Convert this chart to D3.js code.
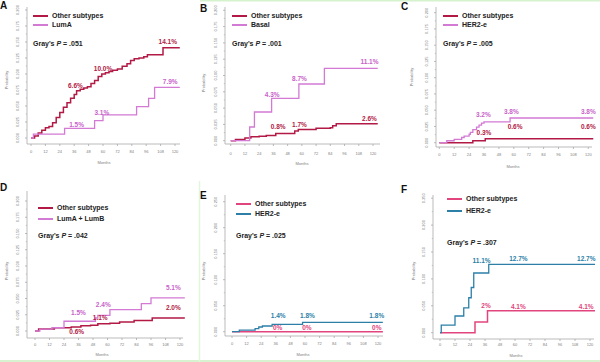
<!DOCTYPE html>
<html><head><meta charset="utf-8">
<script src="https://cdn.jsdelivr.net/npm/d3@7"></script>
<style>body{margin:0;background:#fff}svg{display:block}</style>
</head><body>
<svg id="c" width="600" height="362"></svg>
<script>
// ---------------- DATA ----------------
const monthTicks = [0,12,24,36,48,60,72,84,96,108,120];
const yTicks20 = [0,0.025,0.05,0.075,0.1,0.125,0.15,0.175,0.2];
const yTicks25 = [0,0.05,0.1,0.15,0.2,0.25];
const panelLetters = ["A","B","C","D","E","F"];
const legendNames = [
  ["Other subtypes","LumA"],
  ["Other subtypes","Basal"],
  ["Other subtypes","HER2-e"],
  ["Other subtypes","LumA + LumB"],
  ["Other subtypes","HER2-e"],
  ["Other subtypes","HER2-e"]
];
const pValues = [".051",".001",".005",".042",".025",".307"];

// cumulative incidence [month, probability]
const otherA = [[0,0],[3,0.003],[6,0.008],[9,0.012],[12,0.016],[15,0.018],[18,0.024],[21,0.032],[24,0.040],[27,0.048],[30,0.055],[33,0.062],[36,0.068],[38,0.074],[41,0.076],[44,0.078],[47,0.080],[50,0.085],[53,0.090],[56,0.096],[59,0.100],[62,0.102],[65,0.104],[68,0.106],[72,0.108],[76,0.112],[80,0.116],[83,0.121],[86,0.124],[90,0.125],[94,0.127],[97,0.130],[110,0.141]];
const lumA = [[0,0],[2,0.006],[28,0.015],[53,0.027],[60,0.036],[88,0.049],[98,0.062],[103,0.079]];
const otherB = [[0,0],[4,0.002],[12,0.004],[17,0.006],[24,0.007],[30,0.008],[38,0.011],[42,0.011],[54,0.015],[57,0.017],[66,0.017],[72,0.019],[84,0.020],[86,0.023],[89,0.026]];
const basalB = [[0,0],[16,0.021],[20,0.044],[34.5,0.065],[57.5,0.087],[79,0.111]];
const otherC = [[0,0],[27,0.003],[37,0.006]];
const her2C = [[0,0],[6,0.003],[12,0.005],[18,0.008],[20,0.010],[24,0.013],[25,0.016],[27,0.020],[30,0.024],[32,0.027],[34,0.030],[36,0.032],[57,0.038]];
const otherD = [[0,0],[3,0.003],[16,0.005],[30,0.006],[38,0.008],[46,0.009],[52,0.011],[62,0.012],[70,0.014],[82,0.016],[97,0.020]];
const lumABD = [[0,0],[4,0.003],[14,0.005],[24,0.015],[50,0.020],[52,0.024],[62,0.033],[88,0.042],[96,0.051]];
const otherE = [[0,0]];
const her2E = [[0,0],[6,0.003],[19,0.006],[22,0.009],[25,0.011],[33,0.014],[58,0.018]];
const otherF = [[0,0],[28,0.020],[38,0.041]];
const her2F = [[0,0],[1,0.014],[12,0.031],[19,0.046],[23,0.065],[25,0.084],[27,0.111],[39,0.127]];

// annotation labels [month, text]
const labOtherA = [[37,"6.6%"],[60,"10.0%"],[114,"14.1%"]];
const labLumA = [[38,"1.5%"],[59,"3.1%"],[116,"7.9%"]];
const labOtherB = [[40,"0.8%"],[58,"1.7%"],[117,"2.6%"]];
const labBasalB = [[35,"4.3%"],[58,"8.7%"],[117,"11.1%"]];
const labOtherC = [[36,"0.3%"],[61,"0.6%"],[120,"0.6%"]];
const labHer2C = [[35.5,"3.2%"],[58,"3.8%"],[120,"3.8%"]];
const labOtherD = [[34.5,"0.6%"],[54,"1.1%"],[114.5,"2.0%"]];
const labLumABD = [[36,"1.5%"],[56.5,"2.4%"],[114.5,"5.1%"]];
const labOtherE = [[37.5,"0%"],[61.6,"0%"],[119,"0%"]];
const labHer2E = [[38,"1.4%"],[62,"1.8%"],[119,"1.8%"]];
const labOtherF = [[36.8,"2%"],[62.7,"4.1%"],[117,"4.1%"]];
const labHer2F = [[33.3,"11.1%"],[62.7,"12.7%"],[117,"12.7%"]];

// ---------------- LAYOUT / STYLE ----------------
const darkRed = "#b21a45", orchid = "#d27ad4", hotPink = "#e2457d", teal = "#2d7fa8";
const panels = [
  {series:[otherA,lumA], labels:[labOtherA,labLumA], dy:[[8.5,5,6],[3.5,8,5.5]], colors:[darkRed,orchid], labColors:[darkRed,"#c862c9"], yMax:0.2, yTicks:yTicks20,
   x0:31,x1:175,yZero:138,yTop:10,axisX:27,axisTop:7,axisY:144,axisRight:180,tickY:153,monthsX:104,monthsY:164,probX:8,probY:80,
   legX:33,legY:[16,25],grayY:46,letX:0,letY:9},
  {series:[otherB,basalB], labels:[labOtherB,labBasalB], dy:[[7,4.6,5.4],[4,5,7]], colors:[darkRed,orchid], labColors:[darkRed,"#c862c9"], yMax:0.2, yTicks:yTicks20,
   x0:230.7,x1:373,yZero:140.7,yTop:10.3,axisX:225,axisTop:7,axisY:144,axisRight:380,tickY:155,monthsX:302,monthsY:165,probX:205,probY:83,
   legX:232,legY:[16,25],grayY:46,letX:200,letY:12},
  {series:[otherC,her2C], labels:[labOtherC,labHer2C], dy:[[7.7,11.8,11.8],[9,6,6]], colors:[darkRed,orchid], labColors:[darkRed,"#c862c9"], yMax:0.2, yTicks:yTicks20,
   x0:439.3,x1:588.3,yZero:142.7,yTop:12.7,axisX:436,axisTop:7,axisY:147,axisRight:592,tickY:156,monthsX:513,monthsY:168,probX:413,probY:77,
   legX:443,legY:[16,25],grayY:46,letX:401,letY:10},
  {series:[otherD,lumABD], labels:[labOtherD,labLumABD], dy:[[-4.7,6.2,10.3],[8.5,10.4,10.2]], colors:[darkRed,orchid], labColors:[darkRed,"#c862c9"], yMax:0.2, yTicks:yTicks20,
   x0:35,x1:180,yZero:331,yTop:201,axisX:27,axisTop:191,axisY:338,axisRight:183,tickY:346,monthsX:102,monthsY:356,probX:8,probY:271,
   legX:38,legY:[208,219],grayY:238,letX:0,letY:191},
  {series:[otherE,her2E], labels:[labOtherE,labHer2E], dy:[[4,4,4],[8.4,6.3,6.3]], colors:[hotPink,teal], labColors:[hotPink,teal], yMax:0.25, yTicks:yTicks25,
   x0:232,x1:378,yZero:331.7,yTop:201.7,axisX:225,axisTop:195,axisY:336,axisRight:383,tickY:345,monthsX:303,monthsY:356,probX:205,probY:271,
   legX:236,legY:[204,214],grayY:238,letX:200,letY:199},
  {series:[otherF,her2F], labels:[labOtherF,labHer2F], dy:[[16,3.6,3.6],[12,6,6]], colors:[hotPink,teal], labColors:[hotPink,teal], yMax:0.25, yTicks:yTicks25,
   x0:440,x1:590,yZero:332.7,yTop:198.2,axisX:433,axisTop:195,axisY:339,axisRight:594,tickY:346,monthsX:516,monthsY:357,probX:415,probY:271,
   legX:447,legY:[199,211],grayY:245,letX:401,letY:193}
];
const xEndMonth = 124;
const font = "'Liberation Sans', Arial, sans-serif";

const svg = d3.select("#c");

// faint frame lines of the composite figure
svg.append("line").attr("x1",200).attr("x2",600).attr("y1",0.5).attr("y2",0.5).attr("stroke","#d6f2cf").attr("stroke-width",2);
svg.append("line").attr("x1",0).attr("x2",600).attr("y1",361).attr("y2",361).attr("stroke","#d6f2cf").attr("stroke-width",2);
svg.append("line").attr("x1",199.5).attr("x2",199.5).attr("y1",181).attr("y2",362).attr("stroke","#e2f6dc").attr("stroke-width",1.5);

function valueAt(data, m){
  let v = 0;
  for (const d of data){ if (d[0] <= m) v = d[1]; }
  return v;
}

panels.forEach((p, i) => {
  const g = svg.append("g");
  const x = d3.scaleLinear().domain([0,120]).range([p.x0,p.x1]);
  const y = d3.scaleLinear().domain([0,p.yMax]).range([p.yZero,p.yTop]);
  const axisCol = "#a9a9a9", tickCol = "#808080";

  // y axis
  g.append("line").attr("x1",p.axisX).attr("x2",p.axisX).attr("y1",p.axisTop).attr("y2",p.axisY).attr("stroke",axisCol).attr("stroke-width",0.8);
  const step = p.yTicks[1]-p.yTicks[0];
  p.yTicks.forEach((t,k) => {
    g.append("line").attr("x1",p.axisX-2).attr("x2",p.axisX).attr("y1",y(t)).attr("y2",y(t)).attr("stroke",axisCol).attr("stroke-width",0.8);
    if (k < p.yTicks.length-1){
      const m = t + step/2;
      g.append("line").attr("x1",p.axisX-1.2).attr("x2",p.axisX).attr("y1",y(m)).attr("y2",y(m)).attr("stroke",axisCol).attr("stroke-width",0.6);
    }
    g.append("text").attr("transform",`translate(${p.axisX-8.5},${y(t)}) rotate(-90)`)
      .attr("text-anchor","middle").attr("font-family",font).attr("font-size",4).attr("fill",tickCol)
      .text(d3.format(".3f")(t));
  });
  // x axis
  g.append("line").attr("x1",p.axisX).attr("x2",p.axisRight).attr("y1",p.axisY).attr("y2",p.axisY).attr("stroke",axisCol).attr("stroke-width",0.8);
  monthTicks.forEach(t => {
    g.append("line").attr("x1",x(t)).attr("x2",x(t)).attr("y1",p.axisY).attr("y2",p.axisY+2).attr("stroke",axisCol).attr("stroke-width",0.8);
    g.append("text").attr("x",x(t)).attr("y",p.tickY).attr("text-anchor","middle").attr("font-family",font).attr("font-size",4).attr("fill",tickCol).text(t);
  });
  g.append("text").attr("x",p.monthsX).attr("y",p.monthsY).attr("text-anchor","middle").attr("font-family",font).attr("font-size",4).attr("fill",tickCol).text("Months");
  g.append("text").attr("transform",`translate(${p.probX},${p.probY}) rotate(-90)`).attr("text-anchor","middle").attr("font-family",font).attr("font-size",4).attr("fill",tickCol).text("Probability");

  // series
  const line = d3.line().x(d=>x(d[0])).y(d=>y(d[1])).curve(d3.curveStepAfter);
  p.series.forEach((s, k) => {
    const ext = s.concat([[xEndMonth, s[s.length-1][1]]]);
    g.append("path").attr("d",line(ext)).attr("fill","none").attr("stroke",p.colors[k]).attr("stroke-width",k===0?1.5:1.3);
  });
  // annotations
  p.labels.forEach((labs, k) => {
    labs.forEach((l, j) => {
      const cy = y(valueAt(p.series[k], l[0])) - p.dy[k][j];
      g.append("text").attr("x",x(l[0])).attr("y",cy+2.3).attr("text-anchor","middle")
        .attr("font-family",font).attr("font-weight","bold").attr("font-size",6.5).attr("fill",p.labColors[k]).text(l[1]);
    });
  });

  // legend
  legendNames[i].forEach((nm, k) => {
    g.append("line").attr("x1",p.legX).attr("x2",p.legX+15).attr("y1",p.legY[k]).attr("y2",p.legY[k]).attr("stroke",p.colors[k]).attr("stroke-width",2);
    g.append("text").attr("x",p.legX+19).attr("y",p.legY[k]+2.4).attr("font-family",font).attr("font-weight","bold").attr("font-size",7).attr("fill","#222").text(nm);
  });
  const gt = g.append("text").attr("x",p.legX).attr("y",p.grayY).attr("font-family",font).attr("font-weight","bold").attr("font-size",7).attr("fill","#222");
  gt.append("tspan").text("Gray's ");
  gt.append("tspan").attr("font-style","italic").text("P");
  gt.append("tspan").text(" = " + pValues[i]);

  // panel letter
  g.append("text").attr("x",p.letX).attr("y",p.letY).attr("font-family",font).attr("font-weight","bold").attr("font-size",10).attr("fill","#111").text(panelLetters[i]);
});
</script>
</body></html>
